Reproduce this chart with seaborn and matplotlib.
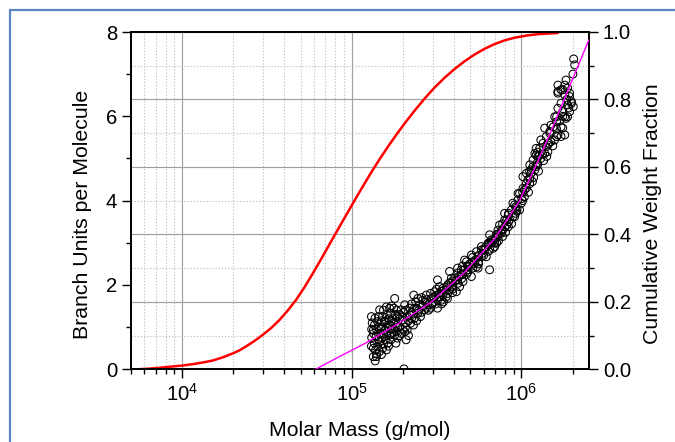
import numpy as np
import pandas as pd
import matplotlib
matplotlib.use("Agg")
import matplotlib.pyplot as plt
from matplotlib.lines import Line2D
from matplotlib.ticker import (LogLocator, MultipleLocator, NullFormatter,
                               FormatStrFormatter, LogFormatterSciNotation)
import seaborn as sns

# ---------------- data ----------------
# cumulative weight fraction curve (right axis)
cwf_mass = [5470, 6410, 7350, 8410, 1.0e4, 1.182e4, 1.353e4, 1.514e4, 1.728e4, 1.986e4,
            2.177e4, 2.384e4, 2.668e4, 2.987e4, 3.36e4, 3.745e4, 4.175e4, 4.70e4,
            5.26e4, 5.89e4, 6.62e4, 7.38e4, 8.23e4, 9.26e4, 1.037e5, 1.161e5,
            1.288e5, 1.455e5, 1.644e5, 1.858e5, 2.10e5, 2.373e5, 2.681e5, 3.07e5,
            3.517e5, 4.029e5, 4.613e5, 5.284e5, 6.053e5, 6.934e5, 7.94e5, 9.095e5,
            1.085e6, 1.277e6, 1.637e6]
cwf_frac = [0.0, 0.002, 0.0045, 0.0075, 0.011, 0.016, 0.021, 0.026, 0.035, 0.047,
            0.056, 0.068, 0.084, 0.102, 0.123, 0.146, 0.173, 0.206,
            0.243, 0.284, 0.328, 0.370, 0.412, 0.457, 0.500, 0.542,
            0.580, 0.622, 0.662, 0.700, 0.736, 0.770, 0.802, 0.835,
            0.864, 0.890, 0.913, 0.933, 0.950, 0.964, 0.975, 0.983,
            0.990, 0.994, 0.997]

# fitted branching curve (left axis)
fit_mass = [6.11e4, 8.45e4, 1.18e5, 1.86e5, 2.95e5, 4.62e5, 6.95e5, 9.75e5,
            1.20e6, 1.47e6, 1.75e6, 2.5e6]
fit_branch = [0.0, 0.30, 0.60, 1.07, 1.60, 2.30, 3.10, 4.00, 4.78, 5.58, 6.32, 7.82]

# measured branch units per molecule (left axis)
pts = [
    (1.374e5, 0.20), (1.40e5, 0.36), (1.456e5, 0.42), (1.42e5, 0.54), (1.36e5, 0.62),
    (1.52e5, 0.50), (1.60e5, 0.46), (1.63e5, 0.62), (1.39e5, 0.77), (1.46e5, 0.85),
    (1.34e5, 0.93), (1.36e5, 1.05), (1.42e5, 1.13), (1.37e5, 1.21), (1.46e5, 1.41),
    (1.52e5, 1.25), (1.56e5, 1.13), (1.49e5, 1.01), (1.57e5, 0.93), (1.63e5, 1.01),
    (1.67e5, 0.81), (1.70e5, 0.70), (1.82e5, 0.62), (1.79e5, 0.81), (1.86e5, 0.74),
    (1.70e5, 1.13), (1.62e5, 1.29), (1.70e5, 1.33), (1.60e5, 1.48), (1.67e5, 1.45),
    (1.79e5, 1.68), (1.77e5, 1.45), (1.86e5, 1.25), (1.82e5, 1.09), (1.91e5, 1.01),
    (1.99e5, 1.17), (1.95e5, 1.41), (2.05e5, 1.53), (2.09e5, 0.70), (2.05e5, 0.89),
    (2.12e5, 0.93), (2.22e5, 1.09), (2.19e5, 1.29), (2.34e5, 1.21), (2.32e5, 1.76),
    (2.34e5, 1.45), (2.45e5, 1.33), (2.51e5, 1.53), (2.62e5, 1.64), (2.45e5, 1.68),
    (2.69e5, 1.41), (2.75e5, 1.76), (2.81e5, 1.53), (2.94e5, 1.68), (3.08e5, 1.84),
    (3.01e5, 1.57), (3.20e5, 1.64), (3.29e5, 1.80), (3.44e5, 1.92), (3.60e5, 1.72),
    (3.77e5, 1.88), (3.86e5, 2.04), (4.04e5, 2.16), (4.22e5, 2.28), (4.42e5, 2.36),
    (4.52e5, 2.08), (4.32e5, 1.96), (2.03e5, 0.01),
    (1.31e5, 0.95), (1.32e5, 1.10), (1.31e5, 0.75), (1.38e5, 0.45), (1.34e5, 0.30),
    (3.20e5, 2.12), (3.29e5, 1.96), (3.50e5, 1.88), (3.38e5, 1.64), (3.20e5, 1.45),
    (3.66e5, 1.68), (3.94e5, 1.96), (3.86e5, 2.16), (4.22e5, 2.04), (4.42e5, 2.24),
    (4.74e5, 2.55), (4.85e5, 2.36), (5.07e5, 2.20), (5.43e5, 2.43), (5.55e5, 2.67),
    (5.81e5, 2.83), (6.36e5, 2.99), (6.81e5, 3.07), (6.95e5, 2.91), (7.27e5, 3.30),
    (7.62e5, 3.23), (8.18e5, 3.42), (3.77e5, 2.32), (3.44e5, 1.76), (4.13e5, 1.84),
    (6.49e5, 2.36),
    (4.62e5, 2.59), (4.85e5, 2.43), (5.29e5, 2.51), (5.55e5, 2.40), (5.07e5, 2.71),
    (5.43e5, 2.79), (5.81e5, 2.67), (6.06e5, 2.83), (6.36e5, 2.95), (6.64e5, 3.07),
    (6.81e5, 2.87), (6.95e5, 2.99), (6.49e5, 3.19), (7.27e5, 3.19), (7.62e5, 3.30),
    (7.43e5, 3.42), (7.96e5, 3.38), (8.18e5, 3.54), (8.37e5, 3.66), (7.96e5, 3.70),
    (8.71e5, 3.78), (9.11e5, 3.62), (8.90e5, 3.94), (9.54e5, 4.02), (9.32e5, 3.82),
    (9.75e5, 4.17), (9.98e5, 3.94), (1.02e6, 4.29), (1.04e6, 4.09), (1.07e6, 4.41),
    (1.12e6, 4.53), (1.14e6, 4.65), (1.17e6, 4.81), (5.81e5, 2.91), (6.20e5, 2.67),
    (1.45e6, 5.36), (1.37e6, 5.12), (1.25e6, 5.04), (1.22e6, 4.81), (1.14e6, 4.73),
    (1.09e6, 4.49), (1.04e6, 4.25), (9.54e5, 4.17), (9.75e5, 3.78), (9.11e5, 3.90),
    (8.90e5, 3.62), (8.37e5, 3.38), (7.96e5, 3.54), (7.27e5, 3.15),
    (2.03e6, 7.36), (2.06e6, 7.22), (2.01e6, 7.00), (1.83e6, 6.86), (1.80e6, 6.74),
    (1.71e6, 6.63), (1.64e6, 6.55), (1.87e6, 6.67), (1.80e6, 6.51), (1.92e6, 6.47),
    (1.97e6, 6.31), (2.02e6, 6.23), (1.92e6, 6.11), (1.87e6, 5.99), (1.80e6, 5.99),
    (1.71e6, 6.31), (1.64e6, 6.19), (1.57e6, 5.99), (1.61e6, 5.87), (1.49e6, 5.79),
    (1.71e6, 5.75), (1.80e6, 5.56), (1.64e6, 5.56), (1.47e6, 5.64), (1.40e6, 5.52),
    (1.57e6, 5.44), (1.43e6, 5.32), (1.34e6, 5.36), (1.28e6, 5.24), (1.43e6, 5.16),
    (1.22e6, 5.08), (1.17e6, 4.96), (1.30e6, 5.00), (1.12e6, 4.85), (1.20e6, 4.73),
    (1.07e6, 4.65), (1.02e6, 4.57), (1.64e6, 6.74),
    (1.75e6, 6.63), (1.64e6, 6.59), (1.92e6, 6.55), (1.87e6, 6.27), (1.75e6, 6.11),
    (1.97e6, 6.35), (1.83e6, 5.95), (1.61e6, 5.99), (1.54e6, 5.75), (1.37e6, 5.72),
    (1.75e6, 5.72), (1.47e6, 5.60), (1.71e6, 5.52), (1.61e6, 5.52), (1.30e6, 5.44),
    (1.40e6, 5.28), (1.22e6, 5.24), (1.28e6, 5.08), (1.20e6, 5.12),
    (1.46e5, 0.65), (1.50e5, 0.75), (1.54e5, 0.85), (1.58e5, 0.70), (1.62e5, 0.90),
    (1.67e5, 1.05), (1.71e5, 0.95), (1.74e5, 1.20), (1.81e5, 1.30), (1.86e5, 1.00),
    (1.91e5, 1.20), (1.96e5, 0.85), (2.02e5, 1.35), (2.07e5, 1.10), (2.13e5, 1.25),
    (2.19e5, 1.45), (2.25e5, 1.35), (2.31e5, 1.05), (2.38e5, 1.60), (2.48e5, 1.40),
    (2.54e5, 1.25), (2.62e5, 1.50), (2.72e5, 1.60), (2.83e5, 1.40), (2.96e5, 1.55),
    (3.03e5, 1.70), (3.16e5, 1.90), (3.29e5, 1.72), (3.47e5, 1.60), (3.62e5, 1.95),
    (3.77e5, 2.05), (3.93e5, 1.82), (4.09e5, 2.10), (4.26e5, 2.20), (4.44e5, 2.15),
    (4.56e5, 2.35), (4.75e5, 2.25), (4.95e5, 2.50), (5.15e5, 2.40), (5.37e5, 2.60),
    (5.59e5, 2.55), (5.90e5, 2.75), (6.15e5, 2.90), (6.40e5, 2.80), (6.67e5, 3.00),
    (7.04e5, 3.10), (7.33e5, 3.05), (7.74e5, 3.30), (8.06e5, 3.25), (8.51e5, 3.55),
    (8.75e5, 3.45), (9.36e5, 3.75), (1.003e6, 4.05), (1.07e6, 4.30), (1.10e6, 4.20),
    (1.16e6, 4.45), (1.18e6, 4.55), (1.24e6, 4.90), (1.26e6, 4.70), (1.33e6, 5.10),
    (1.35e6, 4.95), (1.41e6, 5.05), (1.49e6, 5.40), (1.53e6, 5.30), (1.61e6, 5.70),
    (1.68e6, 5.90), (1.75e6, 6.00), (1.85e6, 6.40), (1.90e6, 6.20),
    (1.306e5, 0.55), (1.306e5, 1.25), (1.342e5, 0.50), (1.342e5, 0.85),
    (1.398e5, 0.95), (1.398e5, 0.30), (1.437e5, 0.70), (1.437e5, 1.00), (1.437e5, 1.25),
    (1.496e5, 0.35), (1.496e5, 0.95), (1.496e5, 1.15), (1.537e5, 0.60), (1.537e5, 1.40),
    (1.602e5, 0.80), (1.602e5, 1.15), (1.646e5, 0.55), (1.646e5, 1.20),
    (1.714e5, 0.85), (1.714e5, 1.50), (1.761e5, 0.95), (1.761e5, 1.10),
    (1.835e5, 0.90), (1.835e5, 1.40), (1.911e5, 0.80), (1.911e5, 1.30),
    (1.990e5, 0.95), (1.990e5, 1.25), (2.073e5, 1.00), (2.073e5, 1.40),
    (2.159e5, 1.15), (2.159e5, 0.80), (2.250e5, 1.20), (2.250e5, 1.55),
    (2.408e5, 1.15), (2.408e5, 1.45), (2.577e5, 1.35), (2.577e5, 1.70),
    (2.759e5, 1.45), (2.759e5, 1.65), (2.912e5, 1.45), (2.912e5, 1.80),
    (3.117e5, 1.55), (3.117e5, 1.75), (3.382e5, 1.85), (3.382e5, 1.55),
    (3.669e5, 1.80), (3.669e5, 2.00), (3.927e5, 2.10), (3.927e5, 1.90),
    (4.203e5, 2.12), (4.203e5, 2.40), (4.498e5, 2.25), (4.498e5, 2.45),
    (4.813e5, 2.45), (4.813e5, 2.30), (5.152e5, 2.55), (5.152e5, 2.65),
    (5.588e5, 2.70), (5.588e5, 2.50), (5.981e5, 2.85), (5.981e5, 2.70),
    (6.489e5, 3.00), (6.489e5, 2.85), (7.136e5, 3.20), (7.136e5, 3.00),
    (7.741e5, 3.45), (7.741e5, 3.15), (8.399e5, 3.50), (8.399e5, 3.70),
    (9.236e5, 3.85), (9.236e5, 3.70), (1.016e6, 4.20), (1.016e6, 4.00),
    (1.117e6, 4.40), (1.117e6, 4.70), (1.245e6, 4.85), (1.245e6, 5.15),
]
meas_mass = [p[0] for p in pts]
meas_branch = [p[1] for p in pts]

x_min, x_max = 5000, 2.5e6

# ---------------- style ----------------
sns.set_theme(style="white")
plt.rcParams["font.family"] = ["Liberation Sans", "DejaVu Sans"]
plt.rcParams["mathtext.fontset"] = "custom"
plt.rcParams["mathtext.rm"] = "Liberation Sans"
plt.rcParams["axes.unicode_minus"] = False

W, H = 675, 442
fig = plt.figure(figsize=(W / 100, H / 100), dpi=100)
fig.patch.set_facecolor("white")

L, R, T, B = 131, 589, 32, 369.3
ax = fig.add_axes([L / W, 1 - B / H, (R - L) / W, (B - T) / H])  # right axis (fraction)
axL = ax.twinx()                                                 # left axis (branches)

# right axis carries the grid and red curve
ax.set_xscale("log")
ax.set_xlim(x_min, x_max)
ax.set_ylim(0, 1.0)
ax.set_axisbelow(True)
ax.grid(which="major", color="#a0a0a0", lw=0.85, ls="-")
ax.grid(which="minor", color="#c4c4c4", lw=0.8, ls=(0, (1.2, 1.6)))

sns.lineplot(x=cwf_mass, y=cwf_frac, ax=ax, color="#ff0000", linewidth=1.8)

sns.lineplot(x=fit_mass, y=fit_branch, ax=axL, color="#ff00ff", linewidth=1.0, zorder=3)
sns.scatterplot(x=meas_mass, y=meas_branch, ax=axL, marker="o", s=32,
                facecolors="none", edgecolor="black", linewidth=0.75, zorder=2)
axL.set_xscale("log")
axL.set_xlim(x_min, x_max)
axL.set_ylim(0, 8)

# axis sides
ax.yaxis.tick_right()
ax.yaxis.set_label_position("right")
axL.yaxis.tick_left()
axL.yaxis.set_label_position("left")

# ticks
ax.xaxis.set_major_locator(LogLocator(base=10, numticks=10))
ax.xaxis.set_minor_locator(LogLocator(base=10, subs=np.arange(2, 10), numticks=20))
ax.xaxis.set_major_formatter(LogFormatterSciNotation())
ax.xaxis.set_minor_formatter(NullFormatter())
ax.yaxis.set_major_locator(MultipleLocator(0.2))
ax.yaxis.set_minor_locator(MultipleLocator(0.1))
ax.yaxis.set_major_formatter(FormatStrFormatter("%.1f"))
axL.yaxis.set_major_locator(MultipleLocator(2))
axL.yaxis.set_minor_locator(MultipleLocator(1))
axL.grid(False)

tick_fs = 14.6
for a in (ax, axL):
    a.tick_params(which="major", direction="out", length=6.5, width=1.0, color="black",
                  labelsize=tick_fs, labelcolor="black")
    a.tick_params(which="minor", direction="out", length=3.6, width=1.0, color="black")
ax.tick_params(axis="x", which="both", bottom=True, top=False, pad=3.5)
ax.tick_params(axis="y", which="both", right=True, left=False, labelright=True,
               labelleft=False, pad=3.5)
axL.tick_params(axis="y", which="both", left=True, right=False, labelleft=True,
                labelright=False, pad=3.5)

for a in (ax, axL):
    for s in a.spines.values():
        s.set_visible(True)
        s.set_color("black")
        s.set_linewidth(1.25)

lab_fs = 15.3
axL.set_ylabel("Branch Units per Molecule", fontsize=lab_fs, color="black")
ax.set_ylabel("Cumulative Weight Fraction", fontsize=lab_fs, color="black")
ax.set_xlabel("Molar Mass (g/mol)", fontsize=lab_fs, color="black")
axL.yaxis.set_label_coords(-0.086, 0.46)
ax.yaxis.set_label_coords(1.118, 0.46)
ax.xaxis.set_label_coords(0.5, -0.152)

# light blue frame around the graph page (top and left edges visible)
bc = "#5b87c5"
fig.add_artist(Line2D([10 / W, 1.0], [1 - 10 / H, 1 - 10 / H], transform=fig.transFigure,
                      color=bc, lw=1.6))
fig.add_artist(Line2D([10 / W, 10 / W], [0.0, 1 - 10 / H], transform=fig.transFigure,
                      color=bc, lw=1.6))

fig.savefig("out.png", dpi=100, facecolor="white")
